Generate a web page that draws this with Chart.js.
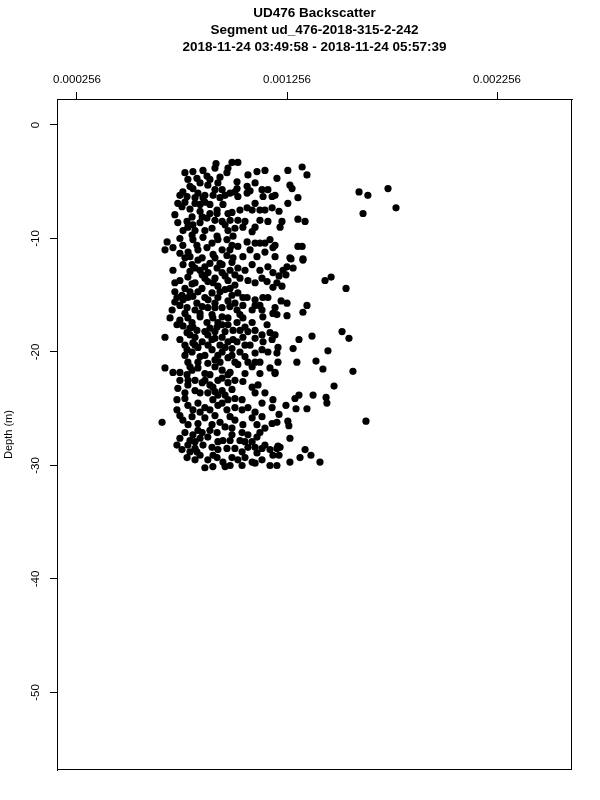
<!DOCTYPE html>
<html>
<head>
<meta charset="utf-8">
<script src="https://cdn.jsdelivr.net/npm/chart.js@4.4.1/dist/chart.umd.min.js"></script>
<style>
  html, body { margin: 0; padding: 0; background: #fff; }
  #wrap { width: 600px; height: 800px; }
</style>
</head>
<body>
<div id="wrap"><canvas id="c" width="600" height="800"></canvas></div>
<script>
// ---- DATA ----
const titleLines = [
  'UD476 Backscatter',
  'Segment ud_476-2018-315-2-242',
  '2018-11-24 03:49:58 - 2018-11-24 05:57:39'
];
const yAxisTitle = 'Depth (m)';
const xTickValues = [0.000256, 0.001256, 0.002256];
const xTickLabels = ['0.000256', '0.001256', '0.002256'];
const yTickValues = [0, -10, -20, -30, -40, -50];
const yTickLabels = ['0', '-10', '-20', '-30', '-40', '-50'];
const xRange = [0.0001608, 0.002613];
const yRange = [-56.83, 2.29];

// backscatter values in units of 1e-6
const backscatterE6 = [
  918, 994, 1022, 913, 770, 808, 875, 970, 1018, 1070,
  1113, 1151, 784, 842, 879, 927, 1104, 1137, 1066, 1165,
  760, 780, 832, 865, 947, 961, 1008, 1022, 736, 756,
  818, 865, 889, 923, 994, 1032, 1104, 1090, 1151, 1185,
  722, 736, 804, 852, 913, 947, 1022, 1056, 1127, 1165,
  784, 818, 865, 899, 975, 1008, 1090, 1104, 685, 675,
  713, 760, 808, 832, 899, 927, 947, 984, 1022, 1046,
  1104, 1151, 1175, 1189, 1199, 794, 852, 913, 1260, 1328,
  1351, 1208, 1270, 1280, 1199, 1308, 1260, 1218, 1232, 1223,
  1308, 1342, 1199, 1308, 1328, 1270, 1332, 1599, 1641, 1737,
  1618, 1775, 713, 770, 804, 832, 865, 947, 994, 1022,
  1090, 1056, 1165, 1189, 746, 784, 818, 852, 879, 913,
  947, 975, 1008, 1070, 1137, 1161, 1189, 722, 756, 784,
  832, 865, 899, 927, 961, 994, 1022, 1066, 1104, 1141,
  722, 746, 780, 818, 852, 879, 913, 947, 984, 1018,
  1046, 1090, 1104, 1165, 1189, 699, 746, 784, 808, 842,
  875, 903, 947, 975, 1018, 1046, 1090, 1141, 1161, 732,
  780, 818, 852, 879, 913, 947, 975, 1018, 1046, 1070,
  1104, 1137, 1175, 1185, 675, 770, 804, 832, 865, 899,
  927, 961, 994, 1032, 1056, 1104, 1137, 1165, 1208, 784,
  832, 879, 937, 1008, 1070, 1127, 1275, 1332, 1256, 1237,
  1285, 1218, 1251, 1208, 1232, 1437, 1466, 1537, 1228, 1256,
  1199, 1208, 1351, 1332, 1256, 1375, 1518, 1551, 1313, 1213,
  1285, 1451, 1199, 1303, 1394, 1213, 1427, 1570, 1480, 1199,
  1313, 1294, 1380, 1442, 1446, 1251, 1299, 1351, 1218, 1208,
  1260, 1265, 1632, 1270, 1213, 1223, 1342, 1370, 1318, 1218,
  1270, 1413, 1208, 675, 713, 780, 804, 865, 913, 947,
  1022, 1090, 1175, 1199, 736, 770, 784, 818, 852, 879,
  903, 947, 975, 1008, 1046, 1090, 1118, 1151, 1189, 732,
  732, 784, 832, 865, 903, 947, 970, 1008, 1042, 1070,
  1104, 1137, 1185, 661, 760, 804, 832, 865, 899, 937,
  961, 1008, 1046, 1090, 1113, 1151, 1185, 770, 808, 852,
  879, 923, 951, 994, 1042, 1090, 1113, 1151, 732, 784,
  818, 856, 899, 927, 970, 1008, 1042, 1070, 1113, 1137,
  1175, 1189, 1208, 780, 818, 842, 879, 923, 951, 994,
  1022, 1056, 1090, 1137, 1175, 865, 903, 961, 1042, 1104,
  // dense core, further samples
  856, 827, 889, 937, 975, 746, 808, 904, 937, 1018,
  1066, 1080, 1142, 1185, 770, 794, 951, 975, 1066, 1127,
  842, 780, 842, 875, 1046, 985, 761, 804, 856, 923,
  970, 999, 1066, 746, 1127, 746, 875, 904, 970, 1080,
  1113, 999, 1151, 761, 794, 889, 923, 985, 1127, 842,
  804, 851, 927, 985, 1032, 1104, 770, 722, 808, 880,
  937, 975, 1046, 1127, 732, 1008, 709, 770, 842, 899,
  975, 1032, 1137, 804, 927, 761, 827, 889, 999, 923,
  1056, 794, 1104, 808, 880, 937, 994, 1080, 746, 1142,
  770, 842, 913, 975, 1056, 1104, 746, 832, 889, 985,
  1056, 1127, 785, 927, 818, 889, 994, 842, 927, 1104,
  746, 770, 808, 889, 927, 975, 1042, 1137, 746, 842,
  785, 913, 985, 994, 746, 832, 1032, 818, 1070, 1127,
  794, 756, 985,
  761, 827, 818, 880, 961, 1008, 904, 865, 913, 961,
  947, 999, 780, 818, 913, 947, 961, 1008, 794, 842,
  889, 927, 827, 904, 1056, 1104, 856, 889, 818,
  794, 913, 985, 842, 923, 808, 961, 827, 994, 785,
  937, 865, 794, 913, 947, 794, 1032, 899, 794, 865,
  975, 985
];
// depth in metres (negative = below surface)
const depthM = [
  -3.4, -3.3, -3.3, -3.8, -4.2, -4.1, -4.5, -4.2, -5.0, -4.4,
  -4.1, -4.0, -4.8, -5.1, -5.3, -5.1, -5.1, -5.7, -6.0, -5.7,
  -5.9, -6.3, -6.0, -6.2, -5.7, -6.2, -5.9, -6.3, -6.9, -7.2,
  -6.9, -6.8, -7.0, -7.5, -7.7, -7.5, -6.9, -7.5, -7.5, -7.3,
  -7.9, -8.6, -8.1, -8.1, -8.4, -8.5, -8.4, -8.5, -8.4, -8.5,
  -9.0, -9.3, -9.3, -9.1, -9.3, -9.1, -9.4, -9.0, -10.3, -11.0,
  -10.8, -10.6, -10.1, -11.0, -10.4, -10.1, -11.0, -11.0, -10.7, -11.6,
  -10.4, -10.4, -10.1, -10.8, -11.6, -11.6, -11.7, -11.7, -4.0, -3.7,
  -4.4, -4.7, -5.3, -5.6, -6.2, -6.4, -6.9, -7.6, -8.5, -9.0,
  -8.3, -8.5, -10.6, -10.7, -10.7, -11.7, -11.8, -5.9, -6.2, -5.6,
  -7.8, -7.3, -12.8, -11.7, -12.3, -11.9, -12.5, -12.3, -12.1, -12.6,
  -12.3, -12.8, -12.5, -13.0, -13.7, -13.4, -13.9, -13.2, -13.8, -13.5,
  -13.0, -13.7, -14.1, -13.7, -13.5, -13.8, -14.3, -14.7, -15.0, -15.2,
  -14.7, -15.2, -14.8, -15.2, -14.5, -15.0, -14.8, -15.2, -15.4, -15.2,
  -15.6, -15.9, -16.1, -16.3, -16.0, -16.1, -16.1, -16.9, -16.0, -16.3,
  -15.9, -16.3, -15.9, -15.2, -16.6, -17.0, -17.2, -17.0, -17.8, -16.9,
  -17.4, -17.0, -17.6, -17.6, -17.4, -17.0, -17.4, -16.9, -17.6, -17.6,
  -18.3, -18.7, -19.1, -18.5, -18.2, -18.7, -19.1, -19.1, -18.7, -18.2,
  -18.1, -18.5, -18.3, -18.9, -18.7, -19.4, -20.0, -19.6, -20.3, -19.8,
  -20.3, -19.6, -20.3, -20.0, -19.4, -20.1, -19.8, -20.0, -20.1, -20.9,
  -20.9, -21.0, -20.9, -20.9, -20.9, -20.9, -11.8, -11.9, -12.5, -12.8,
  -12.6, -13.3, -13.2, -13.9, -14.2, -13.7, -13.4, -14.4, -15.5, -15.7,
  -16.1, -16.7, -15.9, -16.5, -16.8, -18.6, -18.2, -18.8, -18.9, -19.6,
  -19.7, -19.9, -18.5, -20.9, -20.8, -20.9, -21.5, -21.7, -23.0, -21.9,
  -23.8, -24.1, -23.8, -24.0, -24.5, -24.7, -25.0, -25.0, -25.5, -26.2,
  -26.1, -26.5, -26.1, -27.6, -28.3, -28.4, -28.6, -29.1, -29.3, -29.1,
  -29.7, -29.7, -30.0, -21.4, -21.8, -22.0, -21.6, -21.9, -21.3, -21.6,
  -21.1, -21.3, -21.4, -21.8, -23.2, -23.6, -22.9, -23.4, -22.7, -23.6,
  -23.1, -23.4, -22.7, -22.5, -22.6, -23.1, -22.9, -23.6, -24.2, -24.2,
  -25.1, -24.7, -24.5, -24.9, -24.2, -24.5, -25.1, -24.9, -24.2, -24.9,
  -25.3, -25.7, -24.9, -26.2, -26.0, -25.7, -26.3, -25.8, -26.4, -26.2,
  -26.6, -26.0, -26.4, -25.8, -26.4, -26.7, -26.3, -27.1, -27.3, -27.1,
  -27.5, -27.1, -27.8, -27.3, -27.1, -27.9, -27.5, -28.2, -28.2, -28.2,
  -28.5, -28.2, -28.4, -28.6, -28.5, -28.5, -28.8, -28.4, -28.9, -28.5,
  -28.6, -29.1, -28.5, -29.3, -29.5, -29.1, -29.5, -29.3, -29.7, -29.3,
  -29.5, -29.3, -29.7, -29.5, -30.0, -30.2, -30.1, -30.1, -30.0, -29.8,
  // dense core, further samples
  -4.0, -4.7, -4.8, -4.6, -3.8, -6.2, -5.6, -6.2, -6.4, -5.6,
  -5.4, -5.8, -6.3, -6.3, -6.8, -7.4, -7.0, -7.8, -7.3, -7.5,
  -7.6, -8.5, -8.6, -8.2, -9.0, -8.4, -9.3, -9.7, -9.9, -9.8,
  -10.1, -9.8, -10.3, -10.0, -10.4, -11.3, -10.8, -11.4, -11.5, -11.0,
  -11.6, -11.7, -11.2, -12.3, -12.9, -12.2, -12.6, -12.8, -12.8, -12.8,
  -14.0, -14.4, -14.2, -14.4, -13.5, -13.9, -14.4, -13.9, -15.1, -15.4,
  -14.7, -15.5, -15.2, -15.9, -15.2, -15.7, -16.3, -16.6, -16.6, -16.7,
  -17.0, -16.7, -16.3, -17.4, -17.4, -17.7, -18.1, -17.9, -18.1, -17.8,
  -17.8, -18.5, -18.8, -19.2, -19.4, -19.4, -19.7, -19.4, -18.9, -19.1,
  -20.3, -20.4, -20.7, -20.5, -20.4, -20.9, -21.8, -21.4, -22.0, -21.8,
  -21.9, -21.9, -22.5, -22.5, -22.5, -22.9, -23.3, -23.6, -23.8, -23.6,
  -22.5, -24.1, -25.1, -25.1, -24.7, -24.2, -25.1, -24.5, -25.6, -25.3,
  -26.4, -25.6, -25.7, -26.7, -27.6, -26.9, -27.8, -27.9, -27.3, -27.1,
  -28.8, -28.6, -30.0,
  -15.4, -15.7, -12.6, -13.0, -13.3, -13.2, -13.9, -18.2, -18.8, -18.2,
  -20.0, -18.9, -19.8, -19.4, -23.5, -22.3, -23.8, -24.1, -27.8, -27.6,
  -26.9, -27.9, -28.8, -29.1, -27.9, -28.4, -6.4, -7.8, -6.4,
  -5.4, -5.7, -6.0, -7.0, -7.8, -8.8, -8.8, -10.6, -10.6, -11.2,
  -12.2, -13.5, -14.7, -15.7, -16.1, -17.9, -18.1, -18.9, -21.3, -22.5,
  -22.0, -27.8
];

// ---- CHART ----
const FONT = "'Liberation Sans', Arial, Helvetica, sans-serif";
const points = backscatterE6.map((v, i) => ({ x: v * 1e-6, y: depthM[i] }));

const TITLE_SIZE = 13.5, TITLE_LH = 1.274, TITLE_PAD_TOP = 4.5, TITLE_PAD_BOTTOM = 0;
const PLOT_TOP = 99, PLOT_LEFT = 57;
const titleHeight = TITLE_PAD_TOP + TITLE_PAD_BOTTOM + titleLines.length * TITLE_SIZE * TITLE_LH;

const boxPlugin = {
  id: 'rbox',
  afterDraw(chart) {
    const { ctx, chartArea: a } = chart;
    ctx.save();
    ctx.strokeStyle = '#000';
    ctx.lineWidth = 1;
    ctx.strokeRect(Math.round(a.left) + 0.5, Math.round(a.top) + 0.5,
                   Math.round(a.right - a.left) - 1, Math.round(a.bottom - a.top) - 1);
    ctx.restore();
  }
};

new Chart(document.getElementById('c'), {
  type: 'scatter',
  data: {
    datasets: [{
      data: points,
      pointRadius: 3.6,
      pointHoverRadius: 3.6,
      pointBackgroundColor: '#000',
      pointBorderColor: '#000',
      pointBorderWidth: 0,
      pointStyle: 'circle'
    }]
  },
  options: {
    responsive: false,
    animation: false,
    events: [],
    layout: { padding: { left: 0, right: 28, top: 0, bottom: 30 } },
    plugins: {
      legend: { display: false },
      tooltip: { enabled: false },
      title: {
        display: true,
        text: titleLines,
        fullSize: false,
        color: '#000',
        font: { family: FONT, size: TITLE_SIZE, weight: 'bold', lineHeight: TITLE_LH },
        padding: { top: TITLE_PAD_TOP, bottom: TITLE_PAD_BOTTOM }
      }
    },
    scales: {
      x: {
        type: 'linear',
        position: 'top',
        min: xRange[0],
        max: xRange[1],
        afterBuildTicks: s => { s.ticks = xTickValues.map(v => ({ value: v })); },
        afterFit: s => { s.height = PLOT_TOP - titleHeight; },
        ticks: {
          autoSkip: false,
          maxRotation: 0,
          color: '#000',
          padding: 5,
          font: { family: FONT, size: 11.5 },
          callback: (v, i) => xTickLabels[i]
        },
        grid: { drawOnChartArea: false, drawTicks: true, tickLength: 7, color: '#000', lineWidth: 1 },
        border: { display: true, color: '#000', width: 1 }
      },
      y: {
        type: 'linear',
        position: 'left',
        min: yRange[0],
        max: yRange[1],
        afterBuildTicks: s => { s.ticks = yTickValues.map(v => ({ value: v })); },
        afterFit: s => { s.width = PLOT_LEFT; },
        ticks: {
          autoSkip: false,
          minRotation: 90,
          maxRotation: 90,
          crossAlign: 'center',
          color: '#000',
          padding: 6,
          font: { family: FONT, size: 11.5 },
          callback: (v, i) => yTickLabels[i]
        },
        title: {
          display: true,
          text: yAxisTitle,
          color: '#000',
          font: { family: FONT, size: 11 },
          padding: { top: 2, bottom: 0 }
        },
        grid: { drawOnChartArea: false, drawTicks: true, tickLength: 7, color: '#000', lineWidth: 1 },
        border: { display: true, color: '#000', width: 1 }
      }
    }
  },
  plugins: [boxPlugin]
});
</script>
</body>
</html>
